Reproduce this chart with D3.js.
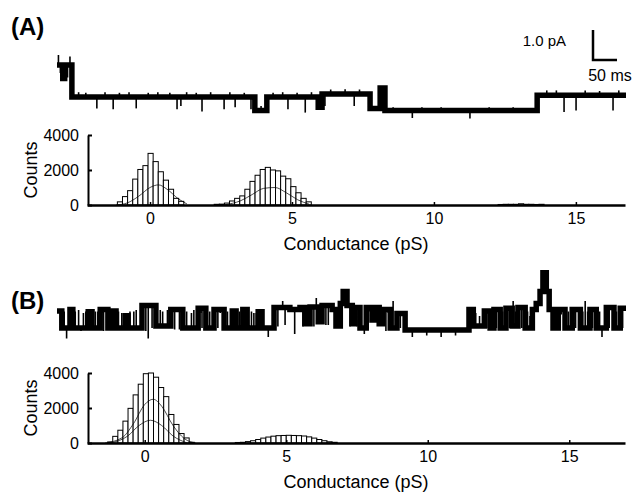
<!DOCTYPE html>
<html><head><meta charset="utf-8">
<script src="https://cdn.jsdelivr.net/npm/d3@7"></script>
<style>
body{margin:0;background:#fff}
svg{display:block}
text{font-family:"Liberation Sans",Arial,Helvetica,sans-serif;fill:#000}
</style>
</head><body>
<svg id="chart" width="644" height="492"></svg>
<script>
// ---------------- DATA ----------------
// Single-channel current traces: [time (ms), level (pA)] transitions
const traceA = [[0,1.07],[12,0.62],[16,1.07],[31,0],[412,-0.45],[437,0],[544,-0.34],[552,0.1],[652,-0.38],[673,0.3],[683,-0.45],[1000,0.06]];
const traceAEnd = 1185;
// brief excursions: [time (ms), peak current reached (pA)]
const spikesA = [[3,1.4],[7,0.8],[22,0.65],[27,1.35],[45,0.16],[60,0.14],[83,-0.38],[100,0.16],[117,-0.41],[130,0.14],[150,0.16],[165,-0.38],[190,0.14],[210,0.16],[235,0.14],[250,-0.41],[258,-0.3],[270,0.16],[290,0.14],[302,-0.48],[320,0.16],[348,-0.41],[360,0.16],[371,-0.34],[390,0.14],[404,-0.41],[425,-0.3],[450,0.14],[470,0.16],[481,-0.41],[500,0.14],[517,-0.52],[530,0.16],[558,-0.3],[570,0.25],[600,0.26],[619,-0.3],[630,0.25],[700,-0.34],[740,-0.7],[760,-0.34],[800,-0.34],[860,-0.72],[900,-0.34],[950,-0.34],[1020,0.22],[1040,0.22],[1056,-0.5],[1081,-0.45],[1100,0.22],[1130,0.2],[1158,-0.45],[1170,0.22]];

const traceB = [[0,0.57],[10,0],[27,0.62],[33,0],[65,0.54],[73,0],[90,0.62],[106,0],[115,0.57],[123,0],[144,0.41],[148,0],[177,0.75],[206,0.07],[237,0.62],[262,0],[294,0.66],[310,0],[327,0.62],[348,0],[365,0.57],[373,0],[387,0.62],[396,0],[419,0.54],[427,0],[452,0.68],[485,0.62],[506,0.68],[517,0.14],[527,0.7],[544,0.21],[552,0.75],[573,0.62],[581,0.07],[590,0.82],[596,1.22],[604,0.75],[615,0.14],[619,0.68],[631,0],[644,0.68],[656,0.27],[665,0.68],[671,0.14],[679,0.62],[694,0],[708,0.48],[725,-0.07],[858,0.62],[867,0.07],[890,0.57],[902,0],[910,0.62],[923,0],[935,0.66],[948,0.07],[960,0.68],[975,0],[990,0.62],[998,0.82],[1006,1.22],[1012,1.84],[1019,1.22],[1025,0.62],[1033,0],[1044,0.62],[1058,0],[1073,0.62],[1090,0],[1110,0.62],[1123,0],[1144,0.68],[1160,0],[1173,0.66]];
const traceBEnd = 1185;
const spikesB = [[15,0.55],[20,-0.35],[38,0.55],[45,0.6],[50,-0.1],[55,0.5],[60,0.55],[80,0.55],[85,0.55],[97,-0.1],[110,0.5],[128,0.55],[135,0.5],[138,0.5],[152,0.55],[160,0.55],[165,0.6],[185,-0.1],[190,-0.35],[198,0],[215,0.6],[220,0.55],[230,0.6],[245,-0.05],[255,-0.05],[270,0.55],[280,0.5],[285,0.6],[300,0.5],[302,0],[318,0.55],[335,0],[340,0.5],[355,0.55],[380,0.55],[405,0.55],[410,0.5],[415,0.5],[440,-0.3],[460,0.05],[470,0.9],[475,0.1],[495,-0.2],[512,0.05],[535,0.05],[540,1.0],[560,0.1],[565,0.1],[585,0.5],[610,0.05],[625,0.05],[640,-0.2],[650,0.55],[685,-0.1],[690,0.5],[700,0.9],[715,0],[740,-0.3],[770,-0.25],[800,-0.3],[830,-0.25],[872,0.5],[880,0.4],[895,0],[915,0],[928,0.55],[942,0],[950,0.9],[955,0.55],[968,0],[980,0.55],[985,0.4],[1038,0.55],[1050,0.45],[1065,0.55],[1080,0],[1095,0.55],[1100,0.9],[1105,0.55],[1115,0],[1130,0.55],[1135,-0.3],[1150,0],[1165,0.55],[1178,0]];

// Amplitude histograms: bin width (pS), groups of [first bin left edge, counts...]
const binWidth = 0.18;
const histA = [
  {start:-1.15, counts:[180,480,820,1480,2030,2250,2950,2480,1900,1420,900,380,210]},
  {start:2.26, counts:[40,50,110,230,380,520,900,1350,1700,2030,2150,2000,1950,1650,1500,1050,700,380,180]},
  {start:12.26, counts:[30,40,40,40,70,40,40,30,40]}
];
const histB = [
  {start:-1.31, counts:[60,380,730,1250,1980,2750,3360,3960,4000,3760,3170,2650,1630,1060,540,290,40]},
  {start:3.2, counts:[30,40,80,130,200,280,340,390,420,430,440,430,420,400,350,280,200,130,70,40]}
];
// fitted curves: [conductance (pS), counts]
const fitsA = [
  [[-1.2,0],[-0.8,120],[-0.4,500],[0,1000],[0.3,1150],[0.6,900],[1.0,350],[1.3,60]],
  [[2.6,0],[3.2,250],[3.6,600],[4.0,950],[4.4,1000],[4.8,700],[5.2,300],[5.6,50]]
];
const fitsB = [
  [[-1.4,0],[-0.8,300],[-0.4,1100],[0,2200],[0.3,2500],[0.6,2100],[1.0,1000],[1.4,250],[1.8,0]],
  [[-1.2,0],[-0.6,400],[-0.2,1000],[0.2,1300],[0.6,1000],[1.0,400],[1.5,0]]
];
const xTicks = [0, 5, 10, 15];
const yTicks = [0, 2000, 4000];
const panelLabels = ["(A)", "(B)"];
const xTitle = "Conductance (pS)";
const yTitle = "Counts";
const scaleBarPA = 1.0, scaleBarMS = 50;

// ---------------- DRAW ----------------
const svg = d3.select("#chart");

const tScale = d3.scaleLinear().domain([0, 1185]).range([57, 626]);
const pxPerPA = 30;

function drawTrace(data, end, spikes, baseY) {
  const y = d3.scaleLinear().domain([0, 1]).range([baseY, baseY - pxPerPA]);
  const pts = data.concat([[end, data[data.length-1][1]]]);
  const line = d3.line().x(d => tScale(d[0])).y(d => y(d[1])).curve(d3.curveStepAfter);
  svg.append("path").attr("d", line(pts)).attr("fill","none")
    .attr("stroke","#000").attr("stroke-width",5.5).attr("stroke-linejoin","miter");
  const levelAt = t => { let l = data[0][1]; for (const d of data) { if (d[0] <= t) l = d[1]; } return l; };
  svg.append("g").selectAll("line").data(spikes).join("line")
    .attr("x1", d => tScale(d[0])).attr("x2", d => tScale(d[0]))
    .attr("y1", d => y(levelAt(d[0]))).attr("y2", d => y(d[1]))
    .attr("stroke","#000").attr("stroke-width",1.6);
}

function drawHist(groups, fits, domain, y0, label, labelY) {
  const x = d3.scaleLinear().domain(domain).range([87, 625]);
  const y = d3.scaleLinear().domain([0, 4000]).range([y0, y0 - 70]);
  const g = svg.append("g");
  const bars = [];
  groups.forEach(gr => gr.counts.forEach((c, i) => bars.push({x0: gr.start + i*binWidth, c})));
  g.selectAll("rect").data(bars).join("rect")
    .attr("x", d => x(d.x0)).attr("width", d => x(d.x0 + binWidth) - x(d.x0))
    .attr("y", d => y(d.c)).attr("height", d => y(0) - y(d.c))
    .attr("fill","#fff").attr("stroke","#000").attr("stroke-width",1);
  const fl = d3.line().x(d => x(d[0])).y(d => y(d[1])).curve(d3.curveMonotoneX);
  g.selectAll("path.fit").data(fits).join("path").attr("class","fit")
    .attr("d", fl).attr("fill","none").attr("stroke","#000").attr("stroke-width",0.7);
  // x axis
  const xa = g.append("g").attr("transform", `translate(0,${y0})`)
    .call(d3.axisBottom(x).tickValues(xTicks).tickSize(-3).tickPadding(8).tickSizeOuter(0));
  xa.select(".domain").attr("stroke-width",2.5);
  xa.selectAll(".tick line").attr("stroke-width",1.5);
  xa.selectAll("text").attr("font-size",16);
  // y axis
  const ya = g.append("g").attr("transform", `translate(88,0)`)
    .call(d3.axisLeft(y).tickValues(yTicks).tickFormat(d3.format("d")).tickSize(-4).tickPadding(9).tickSizeOuter(0));
  ya.select(".domain").attr("stroke-width",2);
  ya.selectAll(".tick line").attr("stroke-width",2);
  ya.selectAll("text").attr("font-size",16);
  g.append("text").attr("x",356).attr("y",y0+45).attr("text-anchor","middle")
    .attr("font-size",18).text(xTitle);
  g.append("text").attr("transform",`translate(37,${y0-35}) rotate(-90)`)
    .attr("text-anchor","middle").attr("font-size",18).text(yTitle);
  svg.append("text").attr("x",11).attr("y",labelY).attr("font-size",24)
    .attr("font-weight","bold").text(label);
}

drawTrace(traceA, traceAEnd, spikesA, 97);
drawTrace(traceB, traceBEnd, spikesB, 328);
drawHist(histA, fitsA, [-2.22, 16.73], 205, panelLabels[0], 35);
drawHist(histB, fitsB, [-2.04, 16.97], 443, panelLabels[1], 309);

// scale bar
const sbX = 593, sbY = 60;
svg.append("path")
  .attr("d", `M${sbX},${sbY - scaleBarPA*pxPerPA}V${sbY}H${sbX + tScale(scaleBarMS) - tScale(0)}`)
  .attr("fill","none").attr("stroke","#000").attr("stroke-width",2.5);
svg.append("text").attr("x",566).attr("y",46).attr("text-anchor","end").attr("font-size",15)
  .text(scaleBarPA.toFixed(1) + " pA");
svg.append("text").attr("x",610).attr("y",81).attr("text-anchor","middle").attr("font-size",16)
  .text(scaleBarMS + " ms");
</script>
</body></html>
